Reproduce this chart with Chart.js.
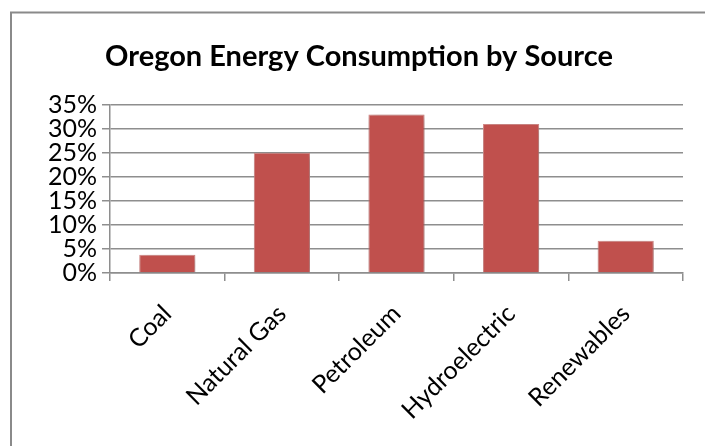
<!DOCTYPE html>
<html>
<head>
<meta charset="utf-8">
<script src="https://cdn.jsdelivr.net/npm/chart.js@4"></script>
<style>
  html, body { margin: 0; padding: 0; background: #fff; }
  #wrap { width: 705px; height: 446px; position: relative; }
</style>
</head>
<body>
<div id="wrap"><canvas id="energyChart"></canvas></div>
<script>
// === DATA ===
const sources = ["Coal", "Natural Gas", "Petroleum", "Hydroelectric", "Renewables"];
const shares = [3.8, 25, 33, 31, 6.7];   // percent of consumption
const yTicks = [0, 5, 10, 15, 20, 25, 30, 35];

const GRID = '#8e8e8e';
const FONT = 'Lato';

// outer frame like the spreadsheet chart box
const framePlugin = {
    id: 'frame',
    beforeDraw(chart) {
        const c = chart.ctx;
        c.save();
        c.strokeStyle = '#8a8a8a';
        c.lineWidth = 2;
        c.beginPath();
        c.moveTo(11, 460);
        c.lineTo(11, 12.5);
        c.lineTo(720, 12.5);
        c.stroke();
        c.restore();
    }
};

// soft drop shadow under the bars
const shadowPlugin = {
    id: 'barShadow',
    beforeDatasetsDraw(chart) {
        const c = chart.ctx;
        c.save();
        c.shadowColor = 'rgba(0,0,0,0.3)';
        c.shadowBlur = 8;
        c.shadowOffsetX = 2;
        c.shadowOffsetY = 2;
    },
    afterDatasetsDraw(chart) { chart.ctx.restore(); }
};

const ctx = document.getElementById('energyChart').getContext('2d');
new Chart(ctx, {
    type: 'bar',
    data: {
        labels: sources,
        datasets: [{
            data: shares,
            backgroundColor: '#C0504D',
            borderColor: '#d98e8c',
            borderWidth: 1,
            categoryPercentage: 1,
            barPercentage: 0.49
        }]
    },
    options: {
        responsive: true,
        maintainAspectRatio: false,
        animation: false,
        layout: { padding: { left: 35, right: 22, top: 0, bottom: 0 } },
        plugins: {
            legend: { display: false },
            tooltip: { enabled: false },
            title: {
                display: true,
                text: 'Oregon Energy Consumption by Source',
                color: '#000',
                font: { family: FONT, size: 29, weight: 'bold' },
                padding: { top: 39, bottom: 31 }
            }
        },
        scales: {
            y: {
                min: 0, max: 35,
                afterBuildTicks: s => { s.ticks = yTicks.map(v => ({ value: v })); },
                afterFit: s => { s.width = 75; },
                ticks: {
                    color: '#000',
                    font: { family: FONT, size: 25 },
                    padding: 5,
                    autoSkip: false,
                    callback: v => v + '%'
                },
                grid: { color: GRID, lineWidth: 1.5, tickLength: 8, drawTicks: true },
                border: { display: true, color: GRID, width: 1.5 }
            },
            x: {
                afterFit: s => { s.height = 173; },
                ticks: {
                    color: '#000',
                    font: { family: FONT, size: 25 },
                    minRotation: 45, maxRotation: 45,
                    autoSkip: false,
                    padding: 18
                },
                grid: { offset: true, drawOnChartArea: false, drawTicks: true, tickLength: 8, color: GRID, lineWidth: 1.5 },
                border: { display: true, color: GRID, width: 1.5 }
            }
        }
    },
    plugins: [framePlugin, shadowPlugin]
});
</script>
</body>
</html>
